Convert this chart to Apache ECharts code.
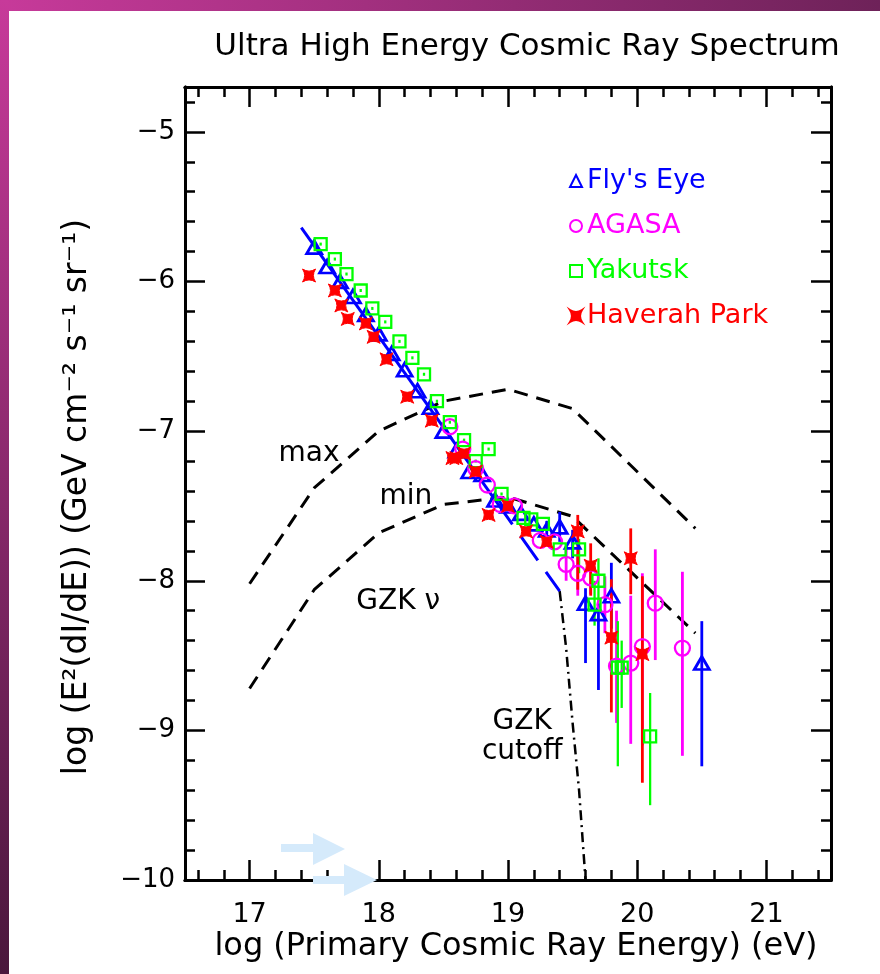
<!DOCTYPE html>
<html><head><meta charset="utf-8">
<script src="https://cdn.jsdelivr.net/npm/echarts@6/dist/echarts.min.js"></script>
<style>html,body{margin:0;padding:0;background:#fff}#c{width:880px;height:974px}</style>
</head><body><div id="c"></div>
<script>
// ---- tick labels ----
const xTickLabels = [17, 18, 19, 20, 21];
const yTickLabels = [-5, -6, -7, -8, -9, -10];

// ---- Fly's Eye ----
const feX = [17.5,17.6,17.7,17.8,17.9,18.0,18.1,18.2,18.3,18.4,18.5,18.6,18.7,18.8,18.9,19.0,19.1,19.2,19.3,19.4,19.5,19.6,19.7,19.8,20.5];
const feY = [-5.77,-5.90,-6.00,-6.10,-6.22,-6.35,-6.48,-6.59,-6.73,-6.84,-7.00,-7.13,-7.27,-7.29,-7.46,-7.50,-7.55,-7.62,-7.66,-7.64,-7.74,-8.15,-8.22,-8.10,-8.55];
const feErrX  = [19.3, 19.4, 19.5, 19.6, 19.7, 19.8, 20.5];
const feErrLo = [-7.73,-7.74,-7.85,-8.55,-8.73,-8.32,-9.24];
const feErrHi = [-7.60,-7.54,-7.66,-8.05,-8.15,-7.88,-8.27];

// ---- AGASA ----
const agX = [18.55,18.65,18.75,18.84,18.94,19.05,19.25,19.36,19.45,19.54,19.64,19.75,19.84,19.95,20.04,20.14,20.35];
const agY = [-6.97,-7.12,-7.25,-7.36,-7.49,-7.50,-7.73,-7.74,-7.89,-7.95,-7.98,-8.16,-8.57,-8.55,-8.44,-8.15,-8.45];
const agErrX  = [19.45,19.54,19.64,19.75,19.84,19.95,20.04,20.14,20.35];
const agErrLo = [-8.00,-8.10,-8.09,-8.35,-8.95,-9.09,-9.10,-8.53,-9.17];
const agErrHi = [-7.78,-7.82,-7.88,-7.97,-8.20,-8.10,-7.95,-7.79,-7.94];

// ---- Yakutsk ----
const yaX = [17.55,17.66,17.75,17.86,17.95,18.05,18.16,18.26,18.35,18.45,18.55,18.66,18.75,18.85,18.95,19.12,19.18,19.27,19.40,19.55,19.70,19.67,19.85,19.88,20.10];
const yaY = [-5.75,-5.85,-5.95,-6.06,-6.18,-6.27,-6.40,-6.51,-6.62,-6.80,-6.94,-7.06,-7.20,-7.12,-7.42,-7.58,-7.59,-7.62,-7.79,-7.79,-8.00,-8.16,-8.58,-8.58,-9.04];
const yaErrX  = [17.55,17.66,17.75,17.86,17.95,18.05,18.16,18.26,18.35,18.45,18.55,18.66,18.75,18.85,18.95,19.55,19.70,19.67,19.85,19.88,20.10];
const yaErrLo = [-5.76,-5.86,-5.96,-6.07,-6.19,-6.28,-6.41,-6.52,-6.63,-6.81,-6.95,-7.07,-7.21,-7.13,-7.43,-7.95,-8.15,-8.30,-9.24,-8.85,-9.50];
const yaErrHi = [-5.74,-5.84,-5.94,-6.05,-6.17,-6.26,-6.39,-6.50,-6.61,-6.79,-6.93,-7.05,-7.19,-7.11,-7.41,-7.72,-7.85,-8.00,-8.27,-8.40,-8.75];

// ---- Haverah Park ----
const hpX = [17.46,17.66,17.71,17.76,17.90,17.96,18.06,18.22,18.41,18.57,18.60,18.66,18.75,18.85,19.00,19.14,19.30,19.54,19.64,19.80,19.95,20.04];
const hpY = [-5.96,-6.06,-6.16,-6.25,-6.28,-6.37,-6.52,-6.77,-6.93,-7.18,-7.18,-7.15,-7.27,-7.56,-7.50,-7.67,-7.74,-7.67,-7.90,-8.38,-7.85,-8.49];
const hpErrX  = [19.54,19.64,19.80,19.95,20.04];
const hpErrLo = [-8.06,-8.10,-8.88,-8.09,-9.35];
const hpErrHi = [-7.56,-7.75,-7.99,-7.65,-7.97];

// ---- model curves ----
const gzkMaxX = [17.0,17.5,18.0,18.5,19.0,19.5,20.45];
const gzkMaxY = [-8.02,-7.38,-7.00,-6.80,-6.72,-6.85,-7.65];
const gzkMinX = [17.0,17.5,18.0,18.5,19.0,19.5,20.45];
const gzkMinY = [-8.72,-8.06,-7.68,-7.49,-7.44,-7.57,-8.35];
const fitX = [17.4, 18.9];
const fitY = [-5.64, -7.46];
const fitExtX = [18.9, 19.4];
const fitExtY = [-7.46, -8.07];
const cutoffX = [19.40,19.45,19.50,19.55,19.60];
const cutoffY = [-8.07,-8.45,-8.95,-9.40,-10.0];

// ---- annotations ----
const annText = ['max','min','GZK \u03bd','GZK\ncutoff'];
const annX = [17.46, 18.21, 18.15, 19.11];
const annY = [-7.15, -7.44, -8.14, -9.04];

const FONT = 'DejaVu Sans';
const zip = (a, b) => a.map((v, i) => [v, b[i]]);
const zip3 = (a, b, c) => a.map((v, i) => [v, b[i], c[i]]);

function range(a, b, s) { const r = []; for (let v = a; v <= b + 1e-9; v += s) r.push(Math.round(v * 10) / 10); return r; }
const xMinor = range(16.6, 21.4, 0.2);
const yMinor = range(-9.8, -4.8, 0.2);

function xa(pos, vals, len, lab) {
  return {type:'value', gridIndex:0, position:pos, min:16.5, max:21.5, splitLine:{show:false},
    axisLine:{show:true, onZero:false, lineStyle:{color:'#000', width:3}},
    axisTick:{show:true, inside:true, length:len, customValues:vals, lineStyle:{color:'#000', width:2.5}},
    axisLabel: lab ? {show:true, customValues:xTickLabels, margin:21, fontSize:27, color:'#000', fontFamily:FONT} : {show:false}};
}
function ya(pos, vals, len, lab) {
  return {type:'value', gridIndex:0, position:pos, min:-10, max:-4.7, splitLine:{show:false},
    axisLine:{show:true, onZero:false, lineStyle:{color:'#000', width:3}},
    axisTick:{show:true, inside:true, length:len, customValues:vals, lineStyle:{color:'#000', width:2.5}},
    axisLabel: lab ? {show:true, customValues:yTickLabels, margin:10, fontSize:26, color:'#000', fontFamily:FONT,
      formatter: v => '\u2212' + Math.abs(v)} : {show:false}};
}

function errSeries(data, color, w) {
  return {type:'custom', data:data, silent:true, z:3,
    renderItem: (p, api) => {
      const a = api.coord([api.value(0), api.value(1)]);
      const b = api.coord([api.value(0), api.value(2)]);
      return {type:'line', shape:{x1:a[0], y1:a[1], x2:b[0], y2:b[1]}, style:{stroke:color, lineWidth:w || 2.8}};
    }};
}
function lineSeries(x, y, color, type, width) {
  return {type:'line', data:zip(x, y), symbol:'none', silent:true, z:2,
    lineStyle:{color:color, width:width, type:type, opacity:1}};
}

const starPath = 'path://M-1,-1 Q0,-0.35 1,-1 Q0.35,0 1,1 Q0,0.35 -1,1 Q-0.35,0 -1,-1 Z';

const chart = echarts.init(document.getElementById('c'), null, {renderer:'canvas'});
chart.setOption({
  animation:false,
  backgroundColor:'#ffffff',
  grid:{left:185, right:49, top:87, bottom:94, containLabel:false},
  xAxis:[xa('bottom', xTickLabels, 20, true), xa('bottom', xMinor, 10, false), xa('top', xTickLabels, 20, false), xa('top', xMinor, 10, false)],
  yAxis:[ya('left', yTickLabels, 20, true), ya('left', yMinor, 10, false), ya('right', yTickLabels, 20, false), ya('right', yMinor, 10, false)],
  legend:{orient:'vertical', left:564, top:161, itemWidth:12, itemHeight:12, itemGap:15,
    textStyle:{fontSize:27, fontFamily:FONT, lineHeight:30},
    data:[
      {name:"Fly's Eye", textStyle:{color:'#0000ff'}},
      {name:'AGASA', textStyle:{color:'#ff00ff'}},
      {name:'Yakutsk', textStyle:{color:'#00ff00'}},
      {name:'Haverah Park', textStyle:{color:'#ff0000'}}
    ]},
  series:[
    lineSeries(gzkMaxX, gzkMaxY, '#000', [14, 9], 3),
    lineSeries(gzkMinX, gzkMinY, '#000', [14, 9], 3),
    lineSeries(cutoffX, cutoffY, '#000', [10, 5, 2, 5], 2.5),
    lineSeries(fitX, fitY, '#0000ff', 'solid', 3),
    lineSeries(fitExtX, fitExtY, '#0000ff', [30, 14], 3),
    errSeries(zip3(feErrX, feErrLo, feErrHi), '#0000ff'),
    {name:"Fly's Eye", type:'scatter', data:zip(feX, feY), symbol:'triangle', symbolSize:[15, 13], z:4,
      itemStyle:{color:'rgba(0,0,0,0)', borderColor:'#0000ff', borderWidth:2.8, opacity:1}},
    errSeries(zip3(agErrX, agErrLo, agErrHi), '#ff00ff'),
    {name:'AGASA', type:'scatter', data:zip(agX, agY), symbol:'circle', symbolSize:15, z:4,
      itemStyle:{color:'rgba(0,0,0,0)', borderColor:'#ff00ff', borderWidth:2.3, opacity:1}},
    errSeries(zip3(yaErrX, yaErrLo, yaErrHi), '#00ff00', 2.3),
    {name:'Yakutsk', type:'scatter', data:zip(yaX, yaY), symbol:'rect', symbolSize:12, z:4,
      itemStyle:{color:'rgba(0,0,0,0)', borderColor:'#00ff00', borderWidth:2.3, opacity:1}},
    errSeries(zip3(hpErrX, hpErrLo, hpErrHi), '#ff0000'),
    {name:'Haverah Park', type:'scatter', data:zip(hpX, hpY), symbol:starPath, symbolSize:13, z:5,
      itemStyle:{color:'#ff0000', borderColor:'#ff0000', borderWidth:1, opacity:1}},
    {type:'custom', data:zip(annX, annY), silent:true, z:6,
      renderItem:(p, api) => {
        const c = api.coord([api.value(0), api.value(1)]);
        return {type:'text', x:c[0], y:c[1], style:{text:annText[p.dataIndex], font:'28px "DejaVu Sans"',
          fill:'#000', align:'center', verticalAlign:'middle', lineHeight:30}};
      }}
  ],
  graphic:[
    {type:'rect', shape:{x:0, y:0, width:880, height:11}, z:100,
      style:{fill:new echarts.graphic.LinearGradient(0,0,1,0,[{offset:0,color:'#c73a9a'},{offset:1,color:'#6e2259'}])}},
    {type:'rect', shape:{x:0, y:0, width:9, height:974}, z:100,
      style:{fill:new echarts.graphic.LinearGradient(0,0,0,1,[{offset:0,color:'#c73a9a'},{offset:1,color:'#4a173c'}])}},
    {type:'text', x:527, y:47, z:50, style:{text:'Ultra High Energy Cosmic Ray Spectrum', font:'31px "DejaVu Sans"',
      fill:'#000', align:'center', verticalAlign:'middle'}},
    {type:'text', x:516, y:947, z:50, style:{text:'log (Primary Cosmic Ray Energy) (eV)', font:'32px "DejaVu Sans"',
      fill:'#000', align:'center', verticalAlign:'middle'}},
    {type:'text', x:77, y:497, rotation:Math.PI/2, z:50, style:{text:'log (E\u00b2(dI/dE)) (GeV cm\u207b\u00b2 s\u207b\u00b9 sr\u207b\u00b9)',
      font:'33px "DejaVu Sans"', fill:'#000', align:'center', verticalAlign:'middle'}},
    {type:'rect', shape:{x:281, y:844, width:32, height:8}, z:60, style:{fill:'#d5eafb'}},
    {type:'polygon', shape:{points:[[313,833],[345,849],[313,865]]}, z:60, style:{fill:'#d5eafb'}},
    {type:'rect', shape:{x:313, y:876, width:31, height:8}, z:60, style:{fill:'#d5eafb'}},
    {type:'polygon', shape:{points:[[344,864],[377,880],[344,896]]}, z:60, style:{fill:'#d5eafb'}}
  ]
});
</script></body></html>
